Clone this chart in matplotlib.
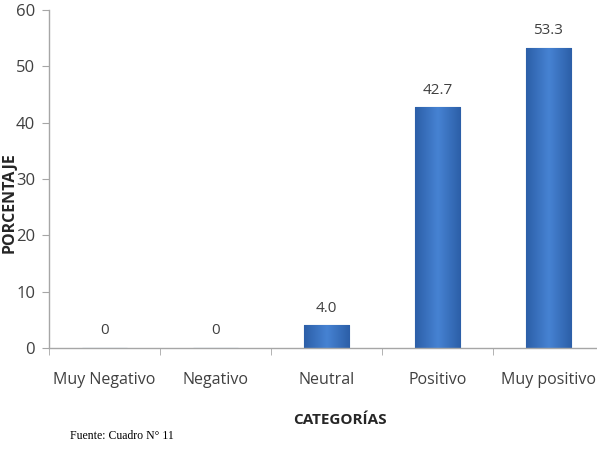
import matplotlib
matplotlib.use('Agg')
import matplotlib.pyplot as plt
import numpy as np

categories = ['Muy Negativo', 'Negativo', 'Neutral', 'Positivo', 'Muy positivo']
values = [0, 0, 4.0, 42.7, 53.3]
value_labels = ['0', '0', '4.0', '42.7', '53.3']
y_ticks = [0, 10, 20, 30, 40, 50, 60]

plt.rcParams['font.family'] = ['Open Sans', 'DejaVu Sans']
TEXT = '#404040'
AXIS = '#A6A6A6'

fig = plt.figure(figsize=(5.97, 4.54), dpi=100)
ax = fig.add_axes([49 / 597, 106 / 454, 555 / 597, 338 / 454])

x = np.arange(len(categories))
bars = ax.bar(x, values, width=0.41, color='#3B74C2', edgecolor='#2B5C9E',
              linewidth=0.8, zorder=2)

# horizontal gradient on each bar, lighter in the middle
grad = np.linspace(0, 1, 64)
grad = 1 - np.abs(grad - 0.5) * 2
grad = np.vstack([grad, grad])
cmap = matplotlib.colors.LinearSegmentedColormap.from_list(
    'bar', ['#2C5FA8', '#4682D2'])
for b in bars:
    if b.get_height() <= 0:
        continue
    x0, w, h = b.get_x(), b.get_width(), b.get_height()
    im = ax.imshow(grad, extent=[x0, x0 + w, 0, h], aspect='auto',
                   cmap=cmap, zorder=2.5, interpolation='bicubic')
    im.set_clip_path(b)

for xi, v, lab in zip(x, values, value_labels):
    ax.annotate(lab, (xi, v), xytext=(0, 7), textcoords='offset points',
                ha='center', va='bottom', fontsize=11, color=TEXT)

ax.set_xlim(-0.5, len(categories) - 0.5)
ax.set_ylim(0, 60)
ax.set_yticks(y_ticks)
ax.set_yticklabels([str(t) for t in y_ticks], fontsize=12, color=TEXT)

ax.set_xticks(x)
ax.set_xticklabels(categories, fontsize=11.5, color=TEXT)
ax.tick_params(axis='x', length=0, pad=17)
ax.set_xticks(np.arange(len(categories) + 1) - 0.5, minor=True)
ax.tick_params(axis='x', which='minor', length=5, color=AXIS, direction='out')
ax.tick_params(axis='y', length=5, color=AXIS, direction='out', pad=5)

for s in ['top', 'right']:
    ax.spines[s].set_visible(False)
for s in ['left', 'bottom']:
    ax.spines[s].set_color(AXIS)
    ax.spines[s].set_linewidth(1.0)

fig.text(0.002, 1 - 203 / 454, 'PORCENTAJE', rotation=90, ha='left', va='center',
         fontsize=11.5, fontweight='bold', color='#262626')
fig.text(340 / 597, 1 - 420 / 454, 'CATEGORÍAS', ha='center', va='center',
         fontsize=11, fontweight='bold', color='#262626')
fig.text(70 / 597, 1 - 436 / 454, 'Fuente: Cuadro N° 11', ha='left', va='center',
         fontsize=8.5, family=['Liberation Serif', 'DejaVu Serif'], color='black')

fig.savefig('out.png', dpi=100, facecolor='white')
